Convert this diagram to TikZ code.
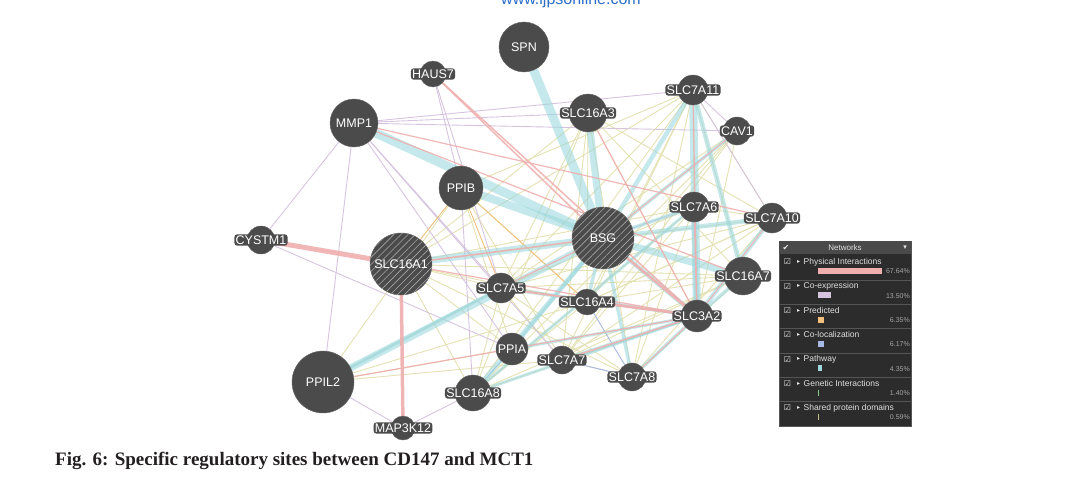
\documentclass[tikz,border=0pt]{standalone}
\usepackage{fontspec}
\setmainfont{Liberation Sans}
\newfontfamily\capfont{Liberation Serif}
\newfontfamily\symfont{DejaVu Sans}
\usetikzlibrary{patterns.meta}
\pgfdeclarelayer{edges}
\pgfsetlayers{edges,main}
\definecolor{nodegray}{HTML}{4B4B4B}
\definecolor{pwc}{HTML}{9DD8DD}
\definecolor{physc}{HTML}{EFAFAF}
\definecolor{coexc}{HTML}{D6C4DF}
\definecolor{predc}{HTML}{F2C07C}
\definecolor{colc}{HTML}{A6B8E4}
\definecolor{shc}{HTML}{E4E1B2}
\definecolor{genc}{HTML}{8CCB8C}
\definecolor{domc}{HTML}{C9C08F}
\definecolor{panelc}{HTML}{2C2C2C}
\definecolor{headc}{HTML}{4A4A4A}
\definecolor{sepc}{HTML}{555555}
\definecolor{wmblue}{HTML}{2A6EC8}
\definecolor{captc}{HTML}{231F20}
\begin{document}
\begin{tikzpicture}[x=1pt,y=-1pt,
  gene/.style={circle,fill=nodegray,draw=nodegray!85!white,line width=0.4pt,inner sep=0pt,minimum size=#1,
    text=white,font=\fontsize{12.5}{12.5}\selectfont},
  hatched/.style={postaction={pattern={Lines[angle=45,distance=5pt,line width=0.6pt]},pattern color=gray!70}},
  lbl/.style={font=\fontsize{12.5}{12.5}\selectfont,text=white,fill=nodegray,rounded corners=3pt,inner sep=1.3pt},
  pw/.style={draw=pwc,line width=#1,opacity=0.6},
  ph/.style={draw=physc,line width=#1,opacity=0.9},
  co/.style={draw=coexc,line width=0.9pt},
  sh/.style={draw=shc,line width=0.9pt},
  pr/.style={draw=predc,line width=0.9pt},
  cl/.style={draw=colc,line width=0.9pt},
  legtxt/.style={font=\fontsize{8.5}{8.5}\selectfont,text=white!88!black,inner sep=0pt},
  legpct/.style={font=\fontsize{7}{7}\selectfont,text=white!65!black,inner sep=0pt},
  legsym/.style={font=\symfont\fontsize{8}{8}\selectfont,text=white!92!black,inner sep=0pt}
]
\useasboundingbox (0,0) rectangle (1075,487);
\clip (0,0) rectangle (1075,487);

% ---------- nodes ----------
\node[gene=50] (spn) at (524,47) {SPN};
\node[gene=26] (haus7) at (433,74) {};
\node[gene=48] (mmp1) at (354,123) {MMP1};
\node[gene=38] (slc16a3) at (588,113) {};
\node[gene=30] (slc7a11) at (693,90) {};
\node[gene=28] (cav1) at (737,131) {};
\node[gene=44] (ppib) at (461,188) {PPIB};
\node[gene=62,hatched] (bsg) at (603,238) {BSG};
\node[gene=30] (slc7a6) at (694,207) {};
\node[gene=30] (slc7a10) at (772,218) {};
\node[gene=28] (cystm1) at (261,240) {};
\node[gene=62,hatched] (slc16a1) at (401,264) {SLC16A1};
\node[gene=38] (slc16a7) at (743,276) {};
\node[gene=30] (slc7a5) at (501,288) {};
\node[gene=26] (slc16a4) at (587,302) {};
\node[gene=32] (slc3a2) at (697,316) {};
\node[gene=32] (ppia) at (512,349) {PPIA};
\node[gene=28] (slc7a7) at (562,360) {};
\node[gene=28] (slc7a8) at (632,377) {};
\node[gene=62] (ppil2) at (323,382) {PPIL2};
\node[gene=36] (slc16a8) at (473,393) {};
\node[gene=24] (map3k12) at (403,428) {};

\node[lbl] (haus7-t) at (haus7) {HAUS7};
\node[lbl] (slc16a3-t) at (slc16a3) {SLC16A3};
\node[lbl] (slc7a11-t) at (slc7a11) {SLC7A11};
\node[lbl] (cav1-t) at (cav1) {CAV1};
\node[lbl] (slc7a6-t) at (slc7a6) {SLC7A6};
\node[lbl] (slc7a10-t) at (slc7a10) {SLC7A10};
\node[lbl] (cystm1-t) at (cystm1) {CYSTM1};
\node[lbl] (slc16a7-t) at (slc16a7) {SLC16A7};
\node[lbl] (slc7a5-t) at (slc7a5) {SLC7A5};
\node[lbl] (slc16a4-t) at (slc16a4) {SLC16A4};
\node[lbl] (slc3a2-t) at (slc3a2) {SLC3A2};
\node[lbl] (slc7a7-t) at (slc7a7) {SLC7A7};
\node[lbl] (slc7a8-t) at (slc7a8) {SLC7A8};
\node[lbl] (slc16a8-t) at (slc16a8) {SLC16A8};
\node[lbl] (map3k12-t) at (map3k12) {MAP3K12};

% ---------- edges ----------
\begin{pgfonlayer}{edges}
\foreach \a/\b in {slc16a1/slc16a3, slc16a1/slc16a4, slc16a1/slc16a7, slc16a1/slc16a8, slc16a3/slc16a4,
  slc16a3/slc16a7, slc16a3/slc16a8, slc16a4/slc16a7, slc16a4/slc16a8, slc16a7/slc16a8,
  slc7a5/slc7a6, slc7a5/slc7a7, slc7a5/slc7a8, slc7a5/slc7a10, slc7a5/slc7a11, slc7a6/slc7a7,
  slc7a6/slc7a8, slc7a6/slc7a10, slc7a6/slc7a11, slc7a7/slc7a8, slc7a7/slc7a10, slc7a7/slc7a11,
  slc7a8/slc7a10, slc7a8/slc7a11, slc7a10/slc7a11, ppia/ppib, ppia/ppil2, ppib/ppil2,
  slc16a1/slc7a11, slc16a1/slc7a6, slc16a1/slc7a10, slc16a3/slc7a5, slc16a3/slc7a7, slc16a3/slc7a8,
  slc16a3/slc7a10, slc16a8/slc7a11, slc16a8/slc7a6, slc16a4/slc7a11, slc16a4/slc7a10,
  slc16a7/slc7a5, slc16a7/slc7a7, slc16a7/slc7a8, cav1/slc7a5, cav1/slc16a4, cav1/slc7a7,
  ppil2/slc7a5, ppil2/slc16a4, ppil2/slc7a7, ppib/slc7a7, ppib/slc16a4, slc16a1/slc7a8,
  slc16a1/ppia, slc16a8/slc7a5, slc16a8/slc3a2, slc7a5/slc3a2, slc3a2/cav1, slc16a3/slc3a2,
  slc7a11/slc16a7, slc7a10/slc16a4, ppib/slc7a11, slc16a1/slc7a5, cav1/slc16a8}
  \draw[sh] (\a) -- (\b);
\foreach \a/\b in {mmp1/cystm1, mmp1/ppil2, mmp1/slc16a3, mmp1/cav1, mmp1/slc7a5, mmp1/ppia,
  mmp1/slc7a7, haus7/ppib, haus7/slc7a5, cystm1/ppia, ppil2/map3k12, slc16a1/map3k12,
  slc7a11/cav1, bsg/slc7a6, slc7a11/slc7a10, ppib/slc16a8, slc16a8/map3k12, mmp1/slc7a11}
  \draw[co] (\a) -- (\b);
\foreach \a/\b in {ppib/slc16a1, ppib/slc7a5, ppib/slc16a4}
  \draw[pr] (\a) -- (\b);
\foreach \a/\b in {slc7a7/slc7a8, ppia/slc16a8, slc16a4/slc7a8}
  \draw[cl] (\a) -- (\b);
\foreach \a/\b/\w in {spn/bsg/9, mmp1/bsg/9, ppib/bsg/8, slc16a1/bsg/7, ppil2/bsg/7, ppil2/slc7a5/3,
  slc16a3/bsg/7, slc7a11/slc3a2/8, slc7a11/slc16a7/4.5, slc7a11/bsg/4.5, bsg/slc16a7/7, bsg/slc7a10/4.5,
  bsg/slc3a2/4.5, slc7a10/slc3a2/4.5, slc7a6/slc3a2/5, bsg/slc16a8/4.5, bsg/ppia/3.5, bsg/slc7a8/3.5,
  slc7a5/slc3a2/3.5, slc7a7/slc3a2/3.5, slc7a8/slc3a2/3.5, cav1/bsg/3.5, slc7a6/bsg/3.5, slc16a7/slc3a2/3.5,
  slc16a8/slc3a2/3, ppia/slc3a2/3, slc16a8/slc7a6/3, slc16a4/bsg/3.5}
  \draw[pw=\w] (\a) -- (\b);
\foreach \a/\b/\w in {cystm1/slc16a1/5, slc16a1/map3k12/3.5, haus7/bsg/1.5, haus7/slc3a2/1.5,
  mmp1/slc7a10/1.2, mmp1/slc16a7/1.2, bsg/slc3a2/2.5, slc16a1/bsg/1.5, slc16a1/slc3a2/1.2,
  slc7a5/slc3a2/2, ppil2/slc3a2/1.2, slc16a3/slc3a2/1.2, slc7a11/slc3a2/1.2, slc7a7/slc3a2/1.5,
  slc7a8/slc3a2/1, cav1/bsg/1, slc7a6/slc3a2/1.2, bsg/slc7a5/1.2, slc16a4/slc3a2/1.5, slc7a10/slc3a2/1}
  \draw[ph=\w] (\a) -- (\b);
\end{pgfonlayer}

% ---------- legend panel ----------
\filldraw[fill=panelc,draw=sepc,line width=0.5pt] (779,241) rectangle (911,426);
\fill[headc] (779,241) rectangle (911,254);
\node[legsym] (hcheck) at (786,247.5) {✔};
\node[legtxt,font=\fontsize{8}{8}\selectfont] (htitle) at (845,247.5) {Networks};
\node[legsym,font=\symfont\fontsize{7}{7}\selectfont] (hdrop) at (905,247.5) {▾};
\foreach \i/\nm/\pct/\col in {0/Physical Interactions/67.64/physc, 1/Co-expression/13.50/coexc,
  2/Predicted/6.35/predc, 3/Co-localization/6.17/colc, 4/Pathway/4.35/pwc,
  5/Genetic Interactions/1.40/genc, 6/Shared protein domains/0.59/domc} {
  \pgfmathsetmacro\ty{262+24.3*\i}
  \node[legsym] (cb\i) at (787.5,\ty) {☑};
  \node[legsym,font=\symfont\fontsize{6}{6}\selectfont] (tri\i) at (798.5,\ty) {▸};
  \node[legtxt,anchor=west] (nm\i) at (803.5,\ty) {\nm};
  \fill[\col] (818,\ty+6) rectangle ++({max(\pct*0.946,0.8)},6);
  \node[legpct,anchor=east] (pc\i) at (910,\ty+9.5) {\pct\%};
}
\foreach \i in {0,...,5} {
  \pgfmathsetmacro\sy{262+24.3*\i+18}
  \draw[sepc,line width=0.6pt] (779,\sy) -- (911,\sy);
}

% ---------- texts ----------
\node[font=\fontsize{16}{16}\selectfont,text=wmblue,anchor=base,inner sep=0pt] (wm) at (571,4.5) {www.ijpsonline.com};
\node[font=\capfont\bfseries\fontsize{19}{19}\selectfont,text=captc,anchor=base west,inner sep=0pt] (cap) at (55,465)
  {Fig. 6: Specific regulatory sites between CD147 and MCT1};
\end{tikzpicture}
\end{document}
